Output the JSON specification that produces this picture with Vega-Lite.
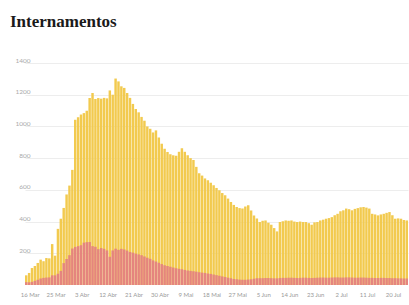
{
  "$schema": "https://vega.github.io/schema/vega-lite/v6.json",
  "width": 383,
  "height": 222,
  "autosize": {"type": "none"},
  "padding": {"left": 25, "top": 63, "right": 1, "bottom": 20},
  "background": "white",
  "title": {"text": "Internamentos", "anchor": "start", "frame": "group", "font": "Liberation Serif", "fontSize": 17, "fontWeight": "bold", "color": "#1a1a1a", "offset": 26, "dx": -15},
  "data": {"values": [
    {"d":"2020-03-16","t":61,"u":18},{"d":"2020-03-17","t":76,"u":17},{"d":"2020-03-18","t":107,"u":20},{"d":"2020-03-19","t":120,"u":26},{"d":"2020-03-20","t":139,"u":33},{"d":"2020-03-21","t":160,"u":41},{"d":"2020-03-22","t":150,"u":45},{"d":"2020-03-23","t":170,"u":47},{"d":"2020-03-24","t":168,"u":48},{"d":"2020-03-25","t":258,"u":61},{"d":"2020-03-26","t":185,"u":61},{"d":"2020-03-27","t":354,"u":71},{"d":"2020-03-28","t":418,"u":89},{"d":"2020-03-29","t":486,"u":138},{"d":"2020-03-30","t":571,"u":164},{"d":"2020-03-31","t":627,"u":188},
    {"d":"2020-04-01","t":726,"u":230},{"d":"2020-04-02","t":1042,"u":240},{"d":"2020-04-03","t":1058,"u":245},{"d":"2020-04-04","t":1075,"u":251},{"d":"2020-04-05","t":1084,"u":267},{"d":"2020-04-06","t":1099,"u":270},{"d":"2020-04-07","t":1180,"u":271},{"d":"2020-04-08","t":1211,"u":245},{"d":"2020-04-09","t":1173,"u":241},{"d":"2020-04-10","t":1179,"u":226},{"d":"2020-04-11","t":1175,"u":233},{"d":"2020-04-12","t":1180,"u":228},{"d":"2020-04-13","t":1177,"u":218},{"d":"2020-04-14","t":1227,"u":178},{"d":"2020-04-15","t":1200,"u":218},{"d":"2020-04-16","t":1302,"u":229},{"d":"2020-04-17","t":1284,"u":222},{"d":"2020-04-18","t":1253,"u":228},{"d":"2020-04-19","t":1243,"u":224},{"d":"2020-04-20","t":1211,"u":217},{"d":"2020-04-21","t":1180,"u":208},{"d":"2020-04-22","t":1142,"u":204},{"d":"2020-04-23","t":1110,"u":198},{"d":"2020-04-24","t":1089,"u":193},{"d":"2020-04-25","t":1060,"u":188},{"d":"2020-04-26","t":1036,"u":180},{"d":"2020-04-27","t":1000,"u":172},{"d":"2020-04-28","t":985,"u":165},{"d":"2020-04-29","t":962,"u":155},{"d":"2020-04-30","t":975,"u":148},
    {"d":"2020-05-01","t":930,"u":140},{"d":"2020-05-02","t":891,"u":132},{"d":"2020-05-03","t":860,"u":125},{"d":"2020-05-04","t":839,"u":120},{"d":"2020-05-05","t":825,"u":115},{"d":"2020-05-06","t":818,"u":110},{"d":"2020-05-07","t":815,"u":106},{"d":"2020-05-08","t":840,"u":102},{"d":"2020-05-09","t":862,"u":99},{"d":"2020-05-10","t":840,"u":95},{"d":"2020-05-11","t":818,"u":92},{"d":"2020-05-12","t":800,"u":89},{"d":"2020-05-13","t":789,"u":86},{"d":"2020-05-14","t":745,"u":84},{"d":"2020-05-15","t":704,"u":80},{"d":"2020-05-16","t":690,"u":78},{"d":"2020-05-17","t":672,"u":76},{"d":"2020-05-18","t":661,"u":73},{"d":"2020-05-19","t":645,"u":70},{"d":"2020-05-20","t":629,"u":67},{"d":"2020-05-21","t":612,"u":62},{"d":"2020-05-22","t":598,"u":58},{"d":"2020-05-23","t":580,"u":54},{"d":"2020-05-24","t":566,"u":50},{"d":"2020-05-25","t":545,"u":46},{"d":"2020-05-26","t":524,"u":42},{"d":"2020-05-27","t":505,"u":38},{"d":"2020-05-28","t":492,"u":36},{"d":"2020-05-29","t":485,"u":34},{"d":"2020-05-30","t":482,"u":33},{"d":"2020-05-31","t":495,"u":33},
    {"d":"2020-06-01","t":503,"u":34},{"d":"2020-06-02","t":470,"u":36},{"d":"2020-06-03","t":439,"u":40},{"d":"2020-06-04","t":420,"u":42},{"d":"2020-06-05","t":397,"u":43},{"d":"2020-06-06","t":405,"u":43},{"d":"2020-06-07","t":407,"u":44},{"d":"2020-06-08","t":392,"u":44},{"d":"2020-06-09","t":380,"u":43},{"d":"2020-06-10","t":359,"u":42},{"d":"2020-06-11","t":338,"u":42},{"d":"2020-06-12","t":397,"u":44},{"d":"2020-06-13","t":402,"u":45},{"d":"2020-06-14","t":407,"u":45},{"d":"2020-06-15","t":405,"u":46},{"d":"2020-06-16","t":407,"u":46},{"d":"2020-06-17","t":400,"u":45},{"d":"2020-06-18","t":397,"u":44},{"d":"2020-06-19","t":400,"u":45},{"d":"2020-06-20","t":397,"u":46},{"d":"2020-06-21","t":397,"u":46},{"d":"2020-06-22","t":390,"u":45},{"d":"2020-06-23","t":380,"u":44},{"d":"2020-06-24","t":395,"u":45},{"d":"2020-06-25","t":397,"u":46},{"d":"2020-06-26","t":407,"u":47},{"d":"2020-06-27","t":412,"u":47},{"d":"2020-06-28","t":418,"u":46},{"d":"2020-06-29","t":422,"u":46},{"d":"2020-06-30","t":428,"u":47},
    {"d":"2020-07-01","t":440,"u":48},{"d":"2020-07-02","t":449,"u":48},{"d":"2020-07-03","t":465,"u":47},{"d":"2020-07-04","t":471,"u":47},{"d":"2020-07-05","t":482,"u":48},{"d":"2020-07-06","t":478,"u":48},{"d":"2020-07-07","t":471,"u":47},{"d":"2020-07-08","t":480,"u":46},{"d":"2020-07-09","t":485,"u":46},{"d":"2020-07-10","t":490,"u":47},{"d":"2020-07-11","t":492,"u":47},{"d":"2020-07-12","t":488,"u":46},{"d":"2020-07-13","t":482,"u":45},{"d":"2020-07-14","t":449,"u":45},{"d":"2020-07-15","t":445,"u":44},{"d":"2020-07-16","t":439,"u":44},{"d":"2020-07-17","t":445,"u":45},{"d":"2020-07-18","t":449,"u":45},{"d":"2020-07-19","t":455,"u":44},{"d":"2020-07-20","t":460,"u":44},{"d":"2020-07-21","t":440,"u":43},{"d":"2020-07-22","t":418,"u":43},{"d":"2020-07-23","t":420,"u":42},{"d":"2020-07-24","t":418,"u":42},{"d":"2020-07-25","t":410,"u":41},{"d":"2020-07-26","t":407,"u":41}
  ]},
  "encoding": {
    "x": {
      "field": "d", "type": "ordinal",
      "scale": {"paddingInner": 0.15, "paddingOuter": 0},
      "axis": {
        "title": null,
        "values": ["2020-03-16","2020-03-25","2020-04-03","2020-04-12","2020-04-21","2020-04-30","2020-05-09","2020-05-18","2020-05-27","2020-06-05","2020-06-14","2020-06-23","2020-07-02","2020-07-11","2020-07-20"],
        "labelExpr": "toNumber(slice(datum.value,8,10)) + ' ' + ['','Jan','Fev','Mar','Abr','Mai','Jun','Jul','Ago','Set','Out','Nov','Dez'][toNumber(slice(datum.value,5,7))]",
        "labelAngle": 0, "labelFontSize": 6, "labelColor": "#9a9a9a", "labelFont": "Lato",
        "ticks": false, "domain": false, "labelPadding": 6, "labelOffset": 4, "labelOverlap": false
      }
    }
  },
  "layer": [
    {
      "mark": {"type": "bar", "color": "#F2CA4F"},
      "encoding": {
        "y": {
          "field": "t", "type": "quantitative",
          "scale": {"domain": [0, 1400], "nice": false},
          "axis": {
            "title": null, "values": [200,400,600,800,1000,1200,1400], "format": "d",
            "grid": true, "gridColor": "#e8e8e8", "gridWidth": 0.8,
            "domain": false, "ticks": false, "labelOverlap": false,
            "labelFontSize": 6.5, "labelColor": "#aaaaaa", "labelFont": "Lato",
            "labelPadding": -5, "labelOffset": -3
          }
        }
      }
    },
    {
      "mark": {"type": "bar", "color": "#E5857E"},
      "encoding": {
        "y": {
          "field": "u", "type": "quantitative",
          "axis": {
            "title": null, "values": [200,400,600,800,1000,1200,1400], "format": "d",
            "grid": true, "gridColor": "#e8e8e8", "gridWidth": 0.8,
            "domain": false, "ticks": false, "labelOverlap": false,
            "labelFontSize": 6.5, "labelColor": "#aaaaaa", "labelFont": "Lato",
            "labelPadding": -5, "labelOffset": -3
          }
        }
      }
    }
  ],
  "config": {"view": {"stroke": null}, "axisY": {"labelOverlap": false}, "axis": {"labelOverlap": false}}
}
